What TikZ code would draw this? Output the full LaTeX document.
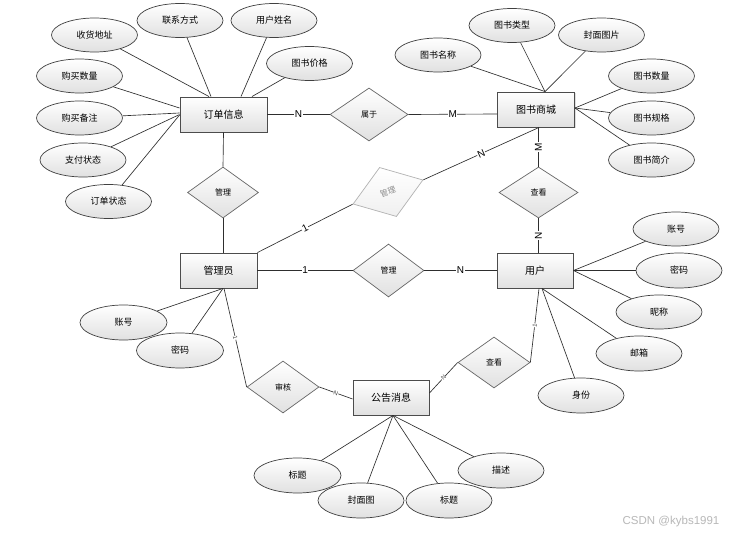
\documentclass[tikz,border=0pt]{standalone}
\usepackage{fontspec}
\newfontfamily\cjk{Noto Sans CJK SC}
\newfontfamily\lat{Liberation Sans}
\usetikzlibrary{shapes.geometric,shadows}
\begin{document}
\begin{tikzpicture}[x=1pt,y=-1pt,
  ent/.style={draw=black!70, line width=0.9pt, top color=white, bottom color=black!12,
    minimum width=77pt, minimum height=35pt, inner sep=0pt,
    font=\cjk\fontsize{10}{12}\selectfont,
    drop shadow={shadow xshift=1.2pt,shadow yshift=-1.2pt,opacity=0.25}},
  attr/.style={ellipse, draw=black!75, line width=0.7pt, top color=white, bottom color=black!12,
    minimum width=86pt, minimum height=34pt, inner sep=0pt,
    font=\cjk\fontsize{9}{11}\selectfont},
  rel/.style={diamond, draw=black!60, line width=0.7pt, top color=white, bottom color=black!12,
    inner sep=0pt, font=\cjk\fontsize{8}{10}\selectfont},
  ln/.style={draw=black!82, line width=0.65pt},
  card/.style={font=\lat\fontsize{10}{12}\selectfont, fill=white, inner sep=0.6pt},
  mini/.style={font=\lat\fontsize{6}{7}\selectfont, fill=white, inner sep=0.3pt, sloped, text=black!75}
]
\fill[white] (0,0) rectangle (738,534);
\useasboundingbox (0,0) rectangle (738,534);

% entities
\node[ent, minimum width=87pt] (oi) at (223.5,114.5) {订单信息};
\node[ent] (bs) at (536,109.5) {图书商城};
\node[ent] (adm) at (218.5,270.5) {管理员};
\node[ent, minimum width=76pt] (usr) at (535,270.5) {用户};
\node[ent, minimum width=76pt] (gg) at (391,397.5) {公告消息};

% relations
\node[rel, minimum width=78pt, minimum height=53pt] (sy) at (369,114.5) {属于};
\node[rel, minimum width=71pt, minimum height=51pt] (gl1) at (223,192.5) {管理};
\node[rel, minimum width=74pt, minimum height=52pt, rotate=19, draw=black!30, text=black!45, bottom color=black!6] (gm) at (388,192) {管理};
\node[rel, minimum width=79pt, minimum height=51pt] (ck1) at (538.5,192.5) {查看};
\node[rel, minimum width=71pt, minimum height=53pt] (gl2) at (388.5,270.5) {管理};
\node[rel, minimum width=72pt, minimum height=52pt] (sh) at (283,387) {审核};
\node[rel, minimum width=72pt, minimum height=51pt] (ck2) at (494,362.5) {查看};

% attributes of 订单信息
\node[attr] (a1) at (94.5,35) {收货地址};
\node[attr] (a2) at (180,20.5) {联系方式};
\node[attr] (a3) at (274,20.5) {用户姓名};
\node[attr] (a4) at (309.5,63.5) {图书价格};
\node[attr] (a5) at (79.5,76) {购买数量};
\node[attr] (a6) at (79.5,118) {购买备注};
\node[attr] (a7) at (83,160) {支付状态};
\node[attr] (a8) at (108.5,201.5) {订单状态};

% attributes of 图书商城
\node[attr] (b1) at (438,55) {图书名称};
\node[attr] (b2) at (512,25.5) {图书类型};
\node[attr] (b3) at (601.5,35) {封面图片};
\node[attr] (b4) at (651.5,76) {图书数量};
\node[attr] (b5) at (651.5,118) {图书规格};
\node[attr] (b6) at (651.5,160) {图书简介};

% attributes of 管理员
\node[attr, minimum width=87pt, minimum height=35pt] (c1) at (123.5,322.5) {账号};
\node[attr, minimum width=87pt, minimum height=35pt] (c2) at (180,350.5) {密码};

% attributes of 用户
\node[attr] (d1) at (676,229) {账号};
\node[attr, minimum height=35pt] (d2) at (679,270.5) {密码};
\node[attr] (d3) at (659,312) {昵称};
\node[attr, minimum height=35pt] (d4) at (639,353.5) {邮箱};
\node[attr, minimum height=35pt] (d5) at (581,395.5) {身份};

% attributes of 公告消息
\node[attr, minimum width=87pt, minimum height=35pt] (e1) at (297.5,475.5) {标题};
\node[attr, minimum height=35pt] (e2) at (361,500.5) {封面图};
\node[attr, minimum height=35pt] (e3) at (449,500.5) {标题};
\node[attr, minimum height=35pt] (e4) at (501,470.5) {描述};

% attribute lines
\draw[ln] (a1) -- ([xshift=-14.5pt]oi.north);
\draw[ln] (a2) -- ([xshift=-12.5pt]oi.north);
\draw[ln] (a3) -- ([xshift=17.5pt]oi.north);
\draw[ln] (a4) -- ([xshift=28.5pt]oi.north);
\draw[ln] (a5) -- ([yshift=6.5pt]oi.west);
\draw[ln] (a6) -- ([yshift=1.5pt]oi.west);
\draw[ln] (a7) -- (oi.west);
\draw[ln] (a8) -- ([yshift=-0.5pt]oi.west);

\draw[ln] (b1) -- ([xshift=9pt]bs.north);
\draw[ln] (b2) -- ([xshift=9pt]bs.north);
\draw[ln] (b3) -- ([xshift=9pt]bs.north);
\draw[ln] (b4) -- ([yshift=1.5pt]bs.east);
\draw[ln] (b5) -- ([yshift=1.5pt]bs.east);
\draw[ln] (b6) -- ([yshift=1.5pt]bs.east);

\draw[ln] (c1) -- ([xshift=4.5pt]adm.south);
\draw[ln] (c2) -- ([xshift=4.5pt]adm.south);

\draw[ln] (d1) -- (usr.east);
\draw[ln] (d2) -- (usr.east);
\draw[ln] (d3) -- (usr.east);
\draw[ln] (d4) -- ([xshift=7pt]usr.south);
\draw[ln] (d5) -- ([xshift=7pt]usr.south);

\draw[ln] (e1) -- ([xshift=2pt]gg.south);
\draw[ln] (e2) -- ([xshift=2pt]gg.south);
\draw[ln] (e3) -- ([xshift=2pt]gg.south);
\draw[ln] (e4) -- ([xshift=2pt]gg.south);

% relationship lines
\draw[ln] (oi.east) -- node[card] {N} (sy.west);
\draw[ln] (sy.east) -- node[card] {M} ([yshift=-4.5pt]bs.west);
\draw[ln] (oi.south) -- (gl1.north);
\draw[ln] (gl1.south) -- ([xshift=4.5pt]adm.north);
\draw[ln] ([xshift=2.5pt]bs.south) -- node[card, rotate=90] {M} (ck1.north);
\draw[ln] (ck1.south) -- node[card, rotate=90] {N} ([xshift=3.5pt]usr.north);
\draw[ln] (adm.north east) -- node[card, sloped] {1} (gm.west);
\draw[ln] (gm.east) -- node[card, sloped] {N} ([xshift=3pt]bs.south);
\draw[ln] (adm.east) -- node[card] {1} (gl2.west);
\draw[ln] (gl2.east) -- node[card] {N} (usr.west);
\draw[ln] ([xshift=5.5pt]adm.south) -- node[mini] {1} (sh.west);
\draw[ln] (sh.east) -- node[mini] {N} ([yshift=-1.5pt]gg.west);
\draw[ln] (ck2.west) -- node[mini] {N} ([yshift=4.5pt]gg.east);
\draw[ln] ([xshift=4pt]usr.south) -- node[mini] {1} (ck2.east);

% watermark
\node[font=\lat\fontsize{11.5}{13}\selectfont, text=black!28, inner sep=0pt] (wm) at (671,522) {CSDN @kybs1991};
\end{tikzpicture}
\end{document}
